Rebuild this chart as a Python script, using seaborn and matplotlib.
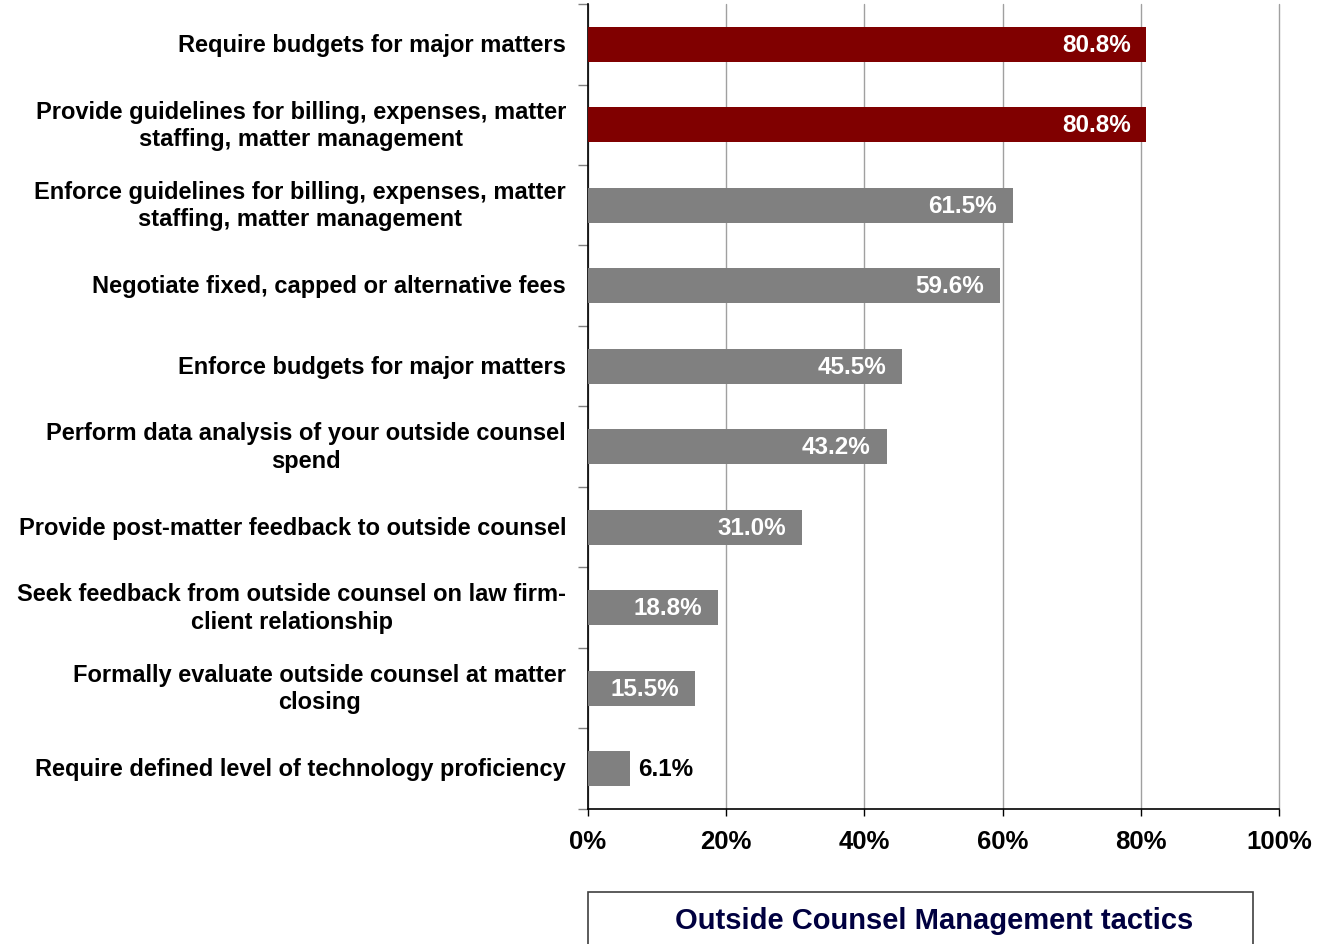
import matplotlib
matplotlib.use("Agg")
import matplotlib.pyplot as plt
import seaborn as sns
import pandas as pd
from matplotlib.patches import Rectangle
from matplotlib.ticker import FixedLocator, PercentFormatter

categories = [
    "Require budgets for major matters",
    "Provide guidelines for billing, expenses, matter\nstaffing, matter management",
    "Enforce guidelines for billing, expenses, matter\nstaffing, matter management",
    "Negotiate fixed, capped or alternative fees",
    "Enforce budgets for major matters",
    "Perform data analysis of your outside counsel\nspend",
    "Provide post-matter feedback to outside counsel",
    "Seek feedback from outside counsel on law firm-\nclient relationship",
    "Formally evaluate outside counsel at matter\nclosing",
    "Require defined level of technology proficiency",
]
values = [80.8, 80.8, 61.5, 59.6, 45.5, 43.2, 31.0, 18.8, 15.5, 6.1]
highlight = [True, True, False, False, False, False, False, False, False, False]
x_ticks = [0, 20, 40, 60, 80, 100]
legend_label = "Outside Counsel Management tactics"

RED = "#800000"
GRAY = "#808080"

sns.set_theme(style="white")
plt.rcParams["font.family"] = ["Liberation Sans", "DejaVu Sans"]
plt.rcParams["font.weight"] = "bold"
plt.rcParams["text.color"] = "black"
plt.rcParams["xtick.color"] = "black"
plt.rcParams["ytick.color"] = "black"

df = pd.DataFrame({"cat": categories, "val": values})
palette = {c: (RED if h else GRAY) for c, h in zip(categories, highlight)}

fig = plt.figure(figsize=(13.31, 9.45), dpi=100)
ax = fig.add_axes([0.4418, 0.1429, 0.5192, 0.8518])

sns.barplot(data=df, x="val", y="cat", hue="cat", palette=palette, legend=False,
            width=0.434, saturation=1, linewidth=0, ax=ax, zorder=3)

ax.set_xlim(0, 100)
ax.set_ylim(len(categories) - 0.5, -0.5)
ax.set_xlabel("")
ax.set_ylabel("")

ax.xaxis.set_major_locator(FixedLocator(x_ticks))
ax.xaxis.set_major_formatter(PercentFormatter(decimals=0))
ax.grid(axis="x", color="#a0a0a0", linewidth=1, zorder=0)
ax.grid(axis="y", visible=False)
ax.set_axisbelow(True)
for gl in ax.get_xgridlines():
    gl.set_clip_on(False)

for s in ["top", "right"]:
    ax.spines[s].set_visible(False)
for s in ["left", "bottom"]:
    ax.spines[s].set_color("black")
    ax.spines[s].set_linewidth(1.2)

ax.tick_params(axis="x", direction="out", length=5, width=1, color="black",
               labelsize=18.5, pad=9.5, bottom=True, labelcolor="black")
for t in ax.get_xticklabels():
    t.set_fontweight("bold")

ax.tick_params(axis="y", which="major", length=0, pad=15.8, labelsize=17,
               labelcolor="black")
ax.set_yticks([i - 0.5 for i in range(len(categories) + 1)], minor=True)
ax.tick_params(axis="y", which="minor", length=7, width=1, color="#808080",
               direction="out", left=True)
for t in ax.get_yticklabels():
    t.set_fontweight("bold")
    t.set_multialignment("center")
    t.set_verticalalignment("center")
    t.set_linespacing(1.25)

for i, v in enumerate(values):
    if v > 10:
        ax.text(v - 2.3, i, f"{v:.1f}%", ha="right", va="center", color="white",
                fontsize=17.5, fontweight="bold", zorder=4)
    else:
        ax.text(v + 1.2, i, f"{v:.1f}%", ha="left", va="center", color="black",
                fontsize=17.5, fontweight="bold", zorder=4)

# legend-like box at bottom
fig.patches.append(Rectangle((588 / 1331, -0.01), (1253 - 588) / 1331, (945 - 893) / 945 + 0.01,
                             transform=fig.transFigure, fill=False,
                             edgecolor="#404040", linewidth=1.2))
fig.text(934 / 1331, 1 - 921 / 945, legend_label, ha="center", va="center",
         color="#000040", fontsize=21, fontweight="bold")

fig.savefig("out.png", dpi=100)
